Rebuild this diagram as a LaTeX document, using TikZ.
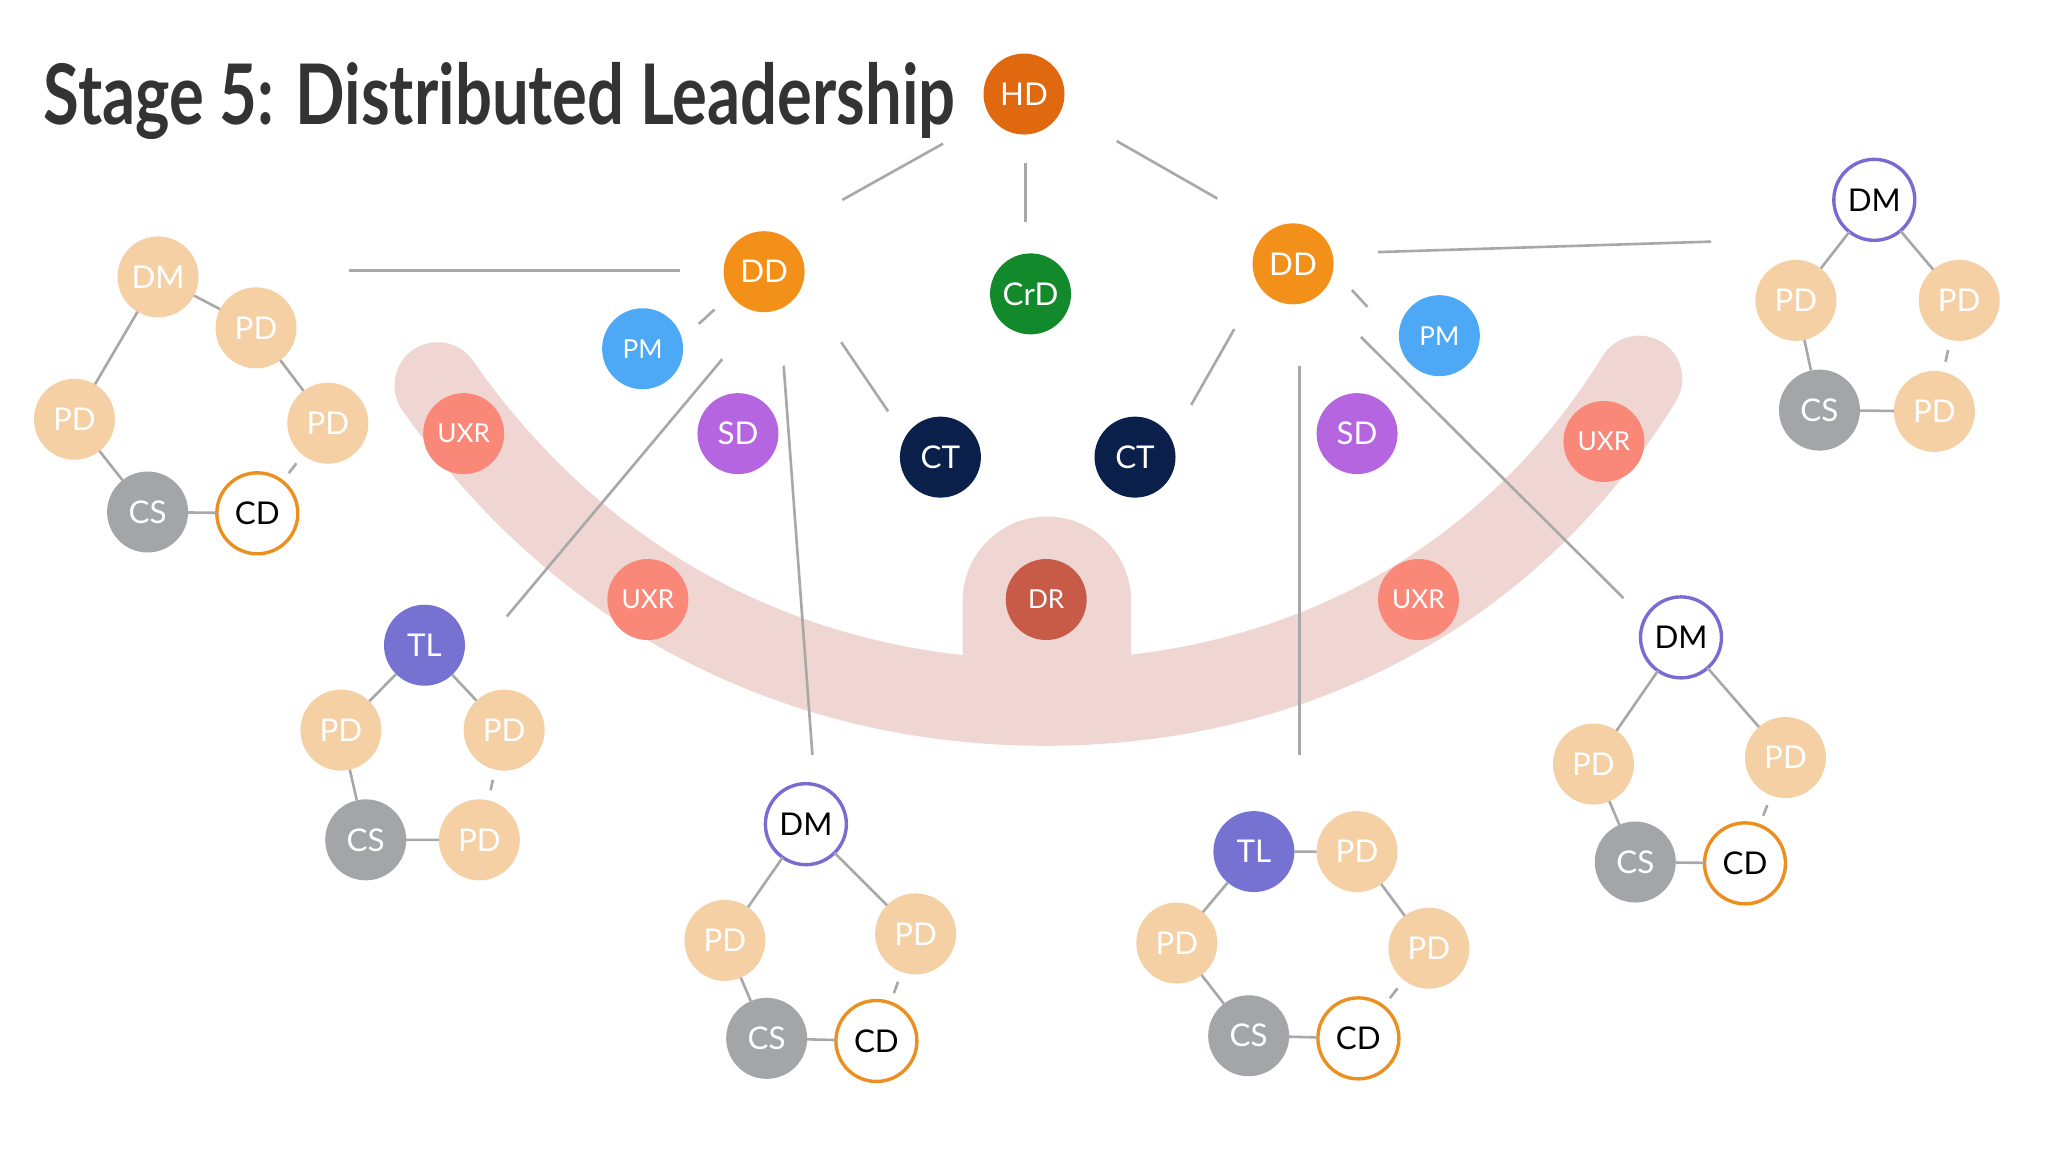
\documentclass[tikz,border=0pt]{standalone}
\usepackage{fontspec}
\usepackage{graphicx}
\setmainfont{Lato}
\begin{document}
\begin{tikzpicture}[x=0.5pt,y=-0.5pt,
  c/.style={circle,minimum size=31pt,inner sep=0pt,outer sep=0pt,font=\fontsize{12}{12}\selectfont,text=white},
  sm/.style={font=\fontsize{10}{10}\selectfont},
  pd/.style={c,fill=pdc},
  cs/.style={c,fill=csc},
  cd/.style={c,fill=white,draw=cdc,line width=1.3pt,text=black},
  dm/.style={c,fill=white,draw=dmc,line width=1.3pt,text=black},
  gl/.style={draw=lnc,line width=1pt,shorten >=4pt,shorten <=4pt},
  ln/.style={draw=lnc,line width=1pt}]
\definecolor{pdc}{HTML}{F4D0A4}\definecolor{csc}{HTML}{A3A5A8}
\definecolor{cdc}{HTML}{EB8F1E}\definecolor{dmc}{HTML}{7A6AD2}
\definecolor{lnc}{HTML}{A8A8A8}\definecolor{arcc}{HTML}{F0D6D2}
\definecolor{hdc}{HTML}{E0680F}\definecolor{ddc}{HTML}{F39019}
\definecolor{crdc}{HTML}{128A2C}\definecolor{pmc}{HTML}{4DA8F5}
\definecolor{sdc}{HTML}{B565E0}\definecolor{ctc}{HTML}{0B1F4B}
\definecolor{uxc}{HTML}{F98878}\definecolor{drc}{HTML}{C85A48}
\definecolor{tlc}{HTML}{7672D2}
\useasboundingbox[fill=white] (0,0) rectangle (1568,882);
% arc band
\draw[arcc,line width=33pt,line cap=round] (335,295) .. controls (450,460) and (620,538) .. (800,538) .. controls (980,538) and (1150,460) .. (1255,290);
\fill[arcc] (737,530) -- (737,460) arc[start angle=180,end angle=360,radius=64.5] -- (866,530) -- cycle;
% title
\node[anchor=base west,font=\fontsize{32}{32}\selectfont\bfseries,text=black!80,inner sep=0] (title) at (33,95) {\scalebox{0.78}[1]{Stage 5: Distributed Leadership}};
% lines
\foreach \a/\b [count=\i] in {{722,110}/{645,153},{785,125}/{785,170},{855,108}/{932,152},{267,207}/{521,207},{1055,193}/{1310,185},{547,237}/{535,248},{553,275}/{388,472},{600,280}/{622,578},{644,262}/{680,315},{945,252}/{912,310},{1035,222}/{1047,235},{995,280}/{995,578},{1042,258}/{1243,458}}
  {\coordinate (p\i) at (\a); \coordinate (q\i) at (\b); \draw[ln] (p\i) -- (q\i);}
% central nodes
\node[c,fill=hdc] (hd) at (784,72) {HD};
\node[c,fill=ddc] (dd1) at (585,208) {DD};
\node[c,fill=ddc] (dd2) at (990,202) {DD};
\node[c,fill=crdc] (crd) at (789,225) {CrD};
\node[c,sm,fill=pmc] (pm1) at (492,267) {PM};
\node[c,sm,fill=pmc] (pm2) at (1102,257) {PM};
\node[c,fill=sdc] (sd1) at (565,332) {SD};
\node[c,fill=sdc] (sd2) at (1039,332) {SD};
\node[c,fill=ctc] (ct1) at (720,350) {CT};
\node[c,fill=ctc] (ct2) at (869,350) {CT};
\node[c,sm,fill=uxc] (ux1) at (355,332) {UXR};
\node[c,sm,fill=uxc] (ux2) at (496,459) {UXR};
\node[c,sm,fill=uxc] (ux3) at (1086,459) {UXR};
\node[c,sm,fill=uxc] (ux4) at (1228,338) {UXR};
\node[c,sm,fill=drc] (dr) at (801,459) {DR};
% group left
\node[pd] (a1) at (121,212) {DM};
\node[pd] (a2) at (196,251) {PD};
\node[pd] (a3) at (57,321) {PD};
\node[pd] (a4) at (251,324) {PD};
\node[cs] (a5) at (113,392) {CS};
\node[cd] (a6) at (197,393) {CD};
\draw[gl] (a1)--(a2) (a1)--(a3) (a2)--(a4) (a3)--(a5) (a5)--(a6) (a6)--(a4);
% group top right
\node[dm] (b1) at (1435,153) {DM};
\node[pd] (b2) at (1375,230) {PD};
\node[pd] (b3) at (1500,230) {PD};
\node[cs] (b4) at (1393,314) {CS};
\node[pd] (b5) at (1481,315) {PD};
\draw[gl] (b1)--(b2) (b1)--(b3) (b2)--(b4) (b4)--(b5) (b3)--(b5);
% group TL left
\node[c,fill=tlc] (t1) at (325,494) {TL};
\node[pd] (t2) at (261,559) {PD};
\node[pd] (t3) at (386,559) {PD};
\node[cs] (t4) at (280,643) {CS};
\node[pd] (t5) at (367,643) {PD};
\draw[gl] (t1)--(t2) (t1)--(t3) (t2)--(t4) (t4)--(t5) (t3)--(t5);
% group DM bottom
\node[dm] (d1) at (617,631) {DM};
\node[pd] (d2) at (555,720) {PD};
\node[pd] (d3) at (701,715) {PD};
\node[cs] (d4) at (587,795) {CS};
\node[cd] (d5) at (671,797) {CD};
\draw[gl] (d1)--(d2) (d1)--(d3) (d2)--(d4) (d4)--(d5) (d5)--(d3);
% group TL right
\node[c,fill=tlc] (e1) at (960,652) {TL};
\node[pd] (e2) at (1039,652) {PD};
\node[pd] (e3) at (901,722) {PD};
\node[pd] (e4) at (1094,726) {PD};
\node[cs] (e5) at (956,793) {CS};
\node[cd] (e6) at (1040,795) {CD};
\draw[gl] (e1)--(e2) (e1)--(e3) (e2)--(e4) (e3)--(e5) (e5)--(e6) (e6)--(e4);
% group DM right
\node[dm] (f1) at (1287,488) {DM};
\node[pd] (f2) at (1220,585) {PD};
\node[pd] (f3) at (1367,580) {PD};
\node[cs] (f4) at (1252,660) {CS};
\node[cd] (f5) at (1336,661) {CD};
\draw[gl] (f1)--(f2) (f1)--(f3) (f2)--(f4) (f4)--(f5) (f5)--(f3);
\end{tikzpicture}
\end{document}
